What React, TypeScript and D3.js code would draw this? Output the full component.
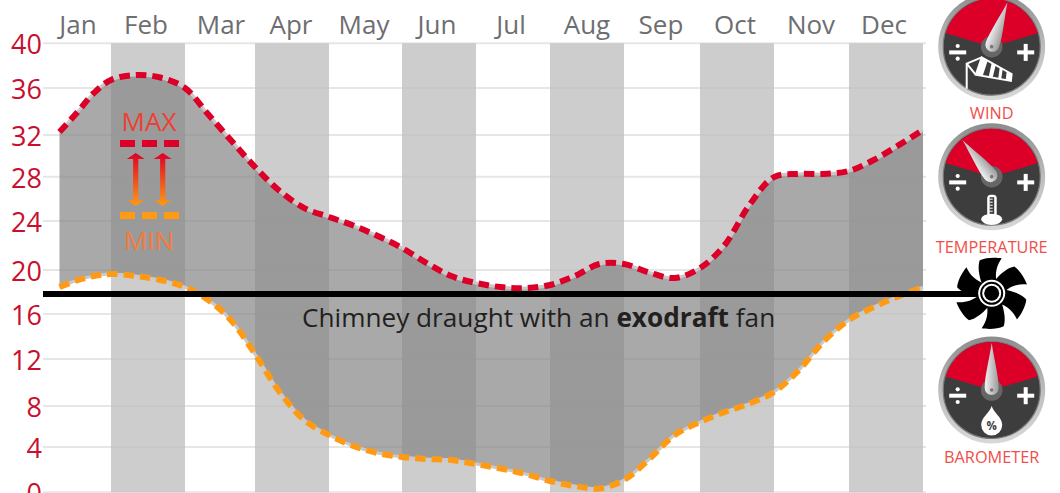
import React from "react";
import * as d3 from "d3";

// ---- data ----
const months = ["Jan","Feb","Mar","Apr","May","Jun","Jul","Aug","Sep","Oct","Nov","Dec"];
const yTicks = [0,4,8,12,16,20,24,28,32,36,40];
// values read every third of a month
const maxSeries = [32.26,33.87,35.57,36.72,37.16,36.94,36,33.74,31.42,28.93,26.71,25.17,24.36,23.63,22.78,21.8,20.57,19.45,18.82,18.45,18.36,18.64,19.45,20.49,20.49,19.77,19.27,20.16,22.04,25.44,27.97,28.26,28.26,28.55,29.6,31.0,32.43];
const minSeries = [18.45,19.05,19.45,19.64,19.45,19.09,18.45,17.27,15.38,12.44,9.19,6.63,5.17,4.1,3.47,3.12,2.94,2.85,2.49,2.1,1.62,1.0,0.56,0.34,1.09,2.94,5.17,6.44,7.41,8.21,9.19,11.06,13.6,15.47,16.64,17.6,18.45];
const gauges = [
  { label: "WIND", needle: 19.6, icon: "wind" },
  { label: "TEMPERATURE", needle: -38.5, icon: "temp" },
  { label: "BAROMETER", needle: 0, icon: "drop" },
];

// ---- layout ----
const W = 1060, H = 493;
const yPx = [492.3,447,406,359,314,270,221,176.7,135,88,43.3];
const edgePx = [59.5,111,185,255,329,402,476,550,624,700,774,849,923];
const labelPx = [78,146,221,291,364,437,511,587,661,735,811,884];
const gaugePos = [{cx:991.7,cy:46.7,ly:118.5},{cx:991.7,cy:176.7,ly:253},{cx:991.7,cy:390,ly:463}];

const y = d3.scaleLinear().domain(yTicks).range(yPx);
const x = d3.scaleLinear().domain(d3.range(13)).range(edgePx);
const labelX = d3.scaleOrdinal<string, number>().domain(months).range(labelPx);
const t = (i: number) => i / 3;

const lineMax = d3.line<number>().x((_, i) => x(t(i))).y(d => y(d)).curve(d3.curveCatmullRom.alpha(0.5));
const lineMin = d3.line<number>().x((_, i) => x(t(i))).y(d => y(d)).curve(d3.curveCatmullRom.alpha(0.5));
const area = d3.area<number>().x((_, i) => x(t(i))).y1(d => y(d)).y0((_, i) => y(minSeries[i])).curve(d3.curveCatmullRom.alpha(0.5));

const FONT = "'Open Sans', 'Noto Sans', sans-serif";
const RED = "#dc0028", ORANGE = "#ff9a14";

function Blade({ a }: { a: number }) {
  return <path transform={`rotate(${a})`} d="M-10,-10 C-13,-19 -14,-27 -12,-33 C-6,-36 4,-36 10,-35 C5,-28 3,-20 5,-11 Z" fill="#000" />;
}

function Icon({ kind }: { kind: string }) {
  if (kind === "wind") {
    return (
      <g>
        <path d="M-25,42 L-25,17 L-10,10.7" fill="none" stroke="#fff" strokeWidth={2} />
        <path d="M-25,17 L-16,28" fill="none" stroke="#fff" strokeWidth={2} />
        <path d="M-10,10.7 L20,27.3 L19.3,34.3 L-16,28 Z" fill="none" stroke="#fff" strokeWidth={1.8} />
        <path d="M-10,10.7 L-4,14 L-9,29 L-16,28 Z" fill="#fff" />
        <path d="M0,16.2 L4,18.4 L1,30.8 L-3,30 Z" fill="#fff" />
        <path d="M8,20.8 L11,22.4 L9.5,32.5 L6.5,32 Z" fill="#fff" />
        <path d="M15,24.6 L20,27.3 L19.3,34.3 L14,33.4 Z" fill="#fff" />
      </g>
    );
  }
  if (kind === "temp") {
    return (
      <g>
        <rect x={-4.5} y={18} width={9.5} height={22} rx={3.5} fill="#fff" />
        <rect x={-2} y={20.5} width={4.5} height={17} fill="#3d3d3d" />
        {[22, 25, 28, 31, 34].map(v => <rect key={v} x={-2} y={v} width={3} height={1} fill="#fff" />)}
        <ellipse cx={0} cy={42.6} rx={10.5} ry={5.6} fill="#fff" />
      </g>
    );
  }
  return (
    <g>
      <path d="M0,16 C2,23 10.5,27 10.5,35 A10.5,10.5 0 0 1 -10.5,35 C-10.5,27 -2,23 0,16 Z" fill="#fff" />
      <text x={0} y={40} textAnchor="middle" fontFamily={FONT} fontWeight={700} fontSize={11.5} fill="#3d3d3d">%</text>
    </g>
  );
}

function Gauge({ cx, cy, needle, icon, label, ly }: any) {
  const a = (73.8 * Math.PI) / 180;
  const R = 48;
  const sector = `M0,0 L${-R * Math.sin(a)},${-R * Math.cos(a)} A${R},${R} 0 0 1 ${R * Math.sin(a)},${-R * Math.cos(a)} Z`;
  return (
    <g>
      <g transform={`translate(${cx},${cy})`}>
        <circle r={53.5} fill="url(#ring)" />
        <circle r={48.5} fill="#3d3d3d" stroke="#7a7a7a" strokeWidth={1.2} />
        <path d={sector} fill={RED} />
        <rect x={-42.5} y={3.7} width={17} height={4} fill="#fff" />
        <circle cx={-34} cy={-0.7} r={2.1} fill="#fff" />
        <circle cx={-34} cy={12} r={2.1} fill="#fff" />
        <rect x={25.5} y={3.7} width={17} height={4} fill="#fff" />
        <rect x={32} y={-2.8} width={4} height={17} fill="#fff" />
        <Icon kind={icon} />
        <circle r={10.8} fill="#666" />
        <g transform={`rotate(${needle})`}>
          <path d="M0,-47 C2.5,-30 7,-14 7,-2 A7,7 0 0 1 -7,-2 C-7,-14 -2.5,-30 0,-47 Z" fill="url(#needle)" />
          <circle cy={0} r={1.8} fill="#777" />
        </g>
      </g>
      <text x={cx} y={ly} textAnchor="middle" fontFamily={FONT} fontSize={16.3} fill="#f04e4a">{label}</text>
    </g>
  );
}

function Arrow({ ax }: { ax: number }) {
  return (
    <g transform={`translate(${ax},0)`}>
      <path d="M-9,159 L0,153 L9,159 L2.6,159 L2.6,200 L8.5,200 L0,206 L-8.5,200 L-2.6,200 L-2.6,159 Z" fill="url(#arrowGrad)" />
    </g>
  );
}

export default function App() {
  return (
    <svg width={W} height={H} viewBox={`0 0 ${W} ${H}`} style={{ position: "absolute", left: 0, top: 0, display: "block", background: "#fff" }}>
      <defs>
        <linearGradient id="ring" x1="0" y1="0" x2="0" y2="1">
          <stop offset="0" stopColor="#8c8c8c" />
          <stop offset="0.5" stopColor="#bdbdbd" />
          <stop offset="1" stopColor="#d8d8d8" />
        </linearGradient>
        <linearGradient id="needle" x1="0" y1="0" x2="1" y2="0">
          <stop offset="0" stopColor="#f2f2f2" />
          <stop offset="1" stopColor="#9a9a9a" />
        </linearGradient>
        <linearGradient id="arrowGrad" gradientUnits="userSpaceOnUse" x1="0" y1="153" x2="0" y2="206">
          <stop offset="0" stopColor={RED} />
          <stop offset="1" stopColor={ORANGE} />
        </linearGradient>
      </defs>

      {yTicks.map(v => (
        <line key={v} x1={43} x2={926} y1={y(v)} y2={y(v)} stroke="#e6e6e6" strokeWidth={2} />
      ))}
      {months.map((m, i) => i % 2 === 1 && (
        <rect key={m} x={x(i)} y={y(40)} width={x(i + 1) - x(i)} height={y(0) - y(40)} fill="#c1c1c1" fillOpacity={0.8} />
      ))}
      <path d={area(maxSeries) || ""} fill="#848484" fillOpacity={0.7} />
      <path d={lineMax(maxSeries) || ""} fill="none" stroke="#c9c9c9" strokeWidth={3} />
      <path d={lineMin(minSeries) || ""} fill="none" stroke="#c9c9c9" strokeWidth={3} />
      <path d={lineMax(maxSeries) || ""} fill="none" stroke={RED} strokeWidth={6} strokeDasharray="10.5 6" />
      <path d={lineMin(minSeries) || ""} fill="none" stroke={ORANGE} strokeWidth={6} strokeDasharray="10.5 6" />

      {months.map(m => (
        <text key={m} x={labelX(m)} y={33.5} textAnchor="middle" fontFamily={FONT} fontSize={26} fill="#6d6e71">{m}</text>
      ))}
      {yTicks.map(v => (
        <text key={v} x={42} y={y(v) + 11} textAnchor="end" fontFamily={FONT} fontSize={27} fill="#c8102e">{v}</text>
      ))}

      <text x={149} y={131} textAnchor="middle" fontFamily={FONT} fontSize={26} fill="#ef3e33">MAX</text>
      <text x={149} y={250} textAnchor="middle" fontFamily={FONT} fontSize={26} fill="#f47b3e">MIN</text>
      {[120, 142, 164].map(dx => (
        <g key={dx}>
          <rect x={dx} y={140} width={15} height={7} fill={RED} />
          <rect x={dx} y={212} width={15} height={7} fill={ORANGE} />
        </g>
      ))}
      <Arrow ax={135.7} />
      <Arrow ax={162.7} />

      <line x1={43} x2={985} y1={294} y2={294} stroke="#000" strokeWidth={6} />
      <text x={302} y={327} fontFamily={FONT} fontSize={26.2} fill="#231f20">
        Chimney draught with an <tspan fontWeight={700}>exodraft</tspan> fan
      </text>

      <g transform="translate(991.7,293.3)">
        {[0, 60, 120, 180, 240, 300].map(a => <Blade key={a} a={a} />)}
        <circle r={13.5} fill="#fff" />
        <circle r={11.5} fill="#000" />
        <circle r={9.5} fill="#fff" />
        <circle r={7.5} fill="#000" />
      </g>

      {gauges.map((g, i) => (
        <Gauge key={g.label} {...gaugePos[i]} needle={g.needle} icon={g.icon} label={g.label} />
      ))}
    </svg>
  );
}
